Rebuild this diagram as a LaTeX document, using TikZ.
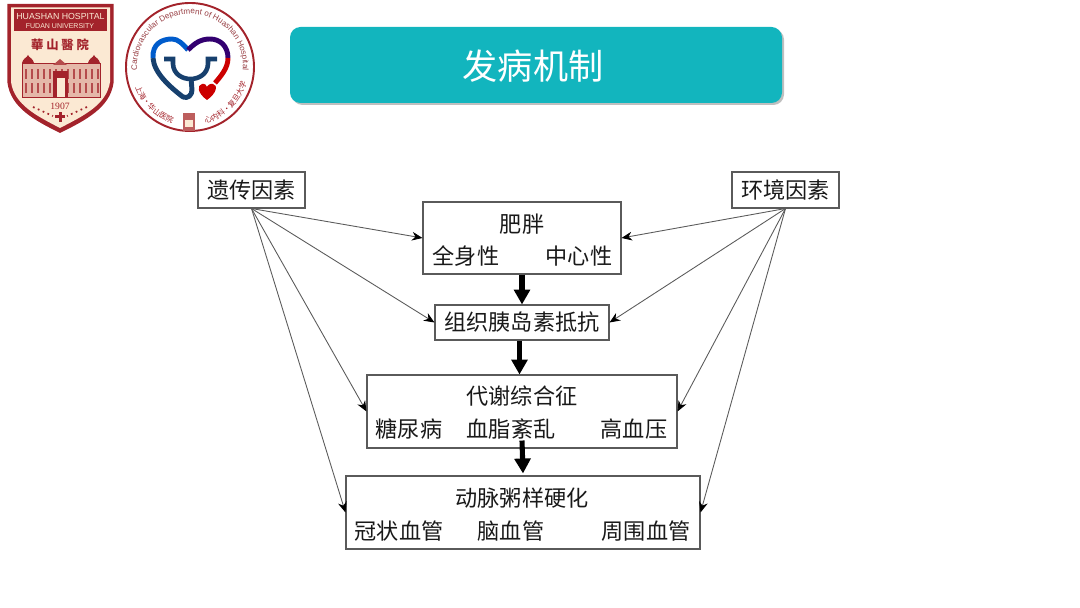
\documentclass[tikz,border=0pt]{standalone}
\usepackage{fontspec}
\setmainfont{Noto Sans CJK SC}
\newfontfamily\tcfont{Noto Sans CJK TC}
\newfontfamily\latinfont{Liberation Sans}
\newfontfamily\yearfont{Liberation Serif}
\usetikzlibrary{arrows.meta,decorations.text,shadows}
\definecolor{banner}{HTML}{12B5BE}
\definecolor{crest}{HTML}{A3232B}
\definecolor{cream}{HTML}{FBE9D3}
\definecolor{navy}{HTML}{17406E}
\definecolor{edge}{HTML}{5A5A5A}
\tikzset{
  boxnode/.style={draw=edge,line width=0.6pt,inner sep=0pt},
  labeltext/.style={font=\fontsize{12.6}{15}\selectfont,text=black!90},
  thinarrow/.style={draw=edge,line width=0.5pt,-{Stealth[length=6pt,width=5pt,black]}},
  fatarrow/.style={draw=black,line width=2.9pt,-{Stealth[length=8.5pt,width=9pt,inset=0pt]}},
  ringtext/.style={decorate,decoration={text along path,text align=center,text={|\latinfont\fontsize{4.6}{5}\selectfont\color{crest!70!gray}|#1}}},
  sealtext/.style={decorate,decoration={text along path,text align=center,text={|\fontsize{4.3}{5}\selectfont\color{crest}|#1}}},
}
\begin{document}
\begin{tikzpicture}
  \useasboundingbox (0,0) rectangle (21.6,12.16);

  % Hospital crest
  \fill[crest] (0.15,12.08) -- (2.27,12.08) -- (2.27,10.5) .. controls (2.2,10) and (1.7,9.75) .. (1.2,9.5) .. controls (0.7,9.75) and (0.22,10) .. (0.15,10.5) -- cycle;
  \fill[cream] (0.22,12.01) -- (2.2,12.01) -- (2.2,10.52) .. controls (2.13,10.06) and (1.66,9.84) .. (1.2,9.6) .. controls (0.74,9.84) and (0.29,10.06) .. (0.22,10.52) -- cycle;
  \fill[crest] (0.28,11.97) rectangle (2.14,11.54);
  \node[font=\latinfont\fontsize{5}{5}\selectfont,text=cream] (crestname) at (1.21,11.84) {HUASHAN HOSPITAL};
  \node[font=\latinfont\fontsize{4}{4}\selectfont,text=cream] (crestuni) at (1.2,11.64) {FUDAN UNIVERSITY};
  \node[font=\tcfont\bfseries\fontsize{7}{7}\selectfont,text=crest] (crestcn) at (1.2,11.27) {華 山 醫 院};
  % building
  \fill[crest!25!cream] (0.44,10.22) rectangle (2,10.9);
  \draw[crest,line width=0.4pt] (0.44,10.22) rectangle (2,10.9);
  \fill[crest] (0.44,10.9) .. controls (0.46,11) and (0.54,11) .. (0.56,11.06) .. controls (0.58,11) and (0.66,11) .. (0.68,10.9) -- cycle;
  \fill[crest] (1.76,10.9) .. controls (1.78,11) and (1.86,11) .. (1.88,11.06) .. controls (1.9,11) and (1.98,11) .. (2,10.9) -- cycle;
  \fill[crest!80!cream] (1.06,10.86) -- (1.2,10.98) -- (1.34,10.86) -- cycle;
  \foreach \wx in {0.52,0.64,...,1.96} {
    \draw[crest!80!cream,line width=0.7pt] (\wx,10.58) -- (\wx,10.78);
    \draw[crest!80!cream,line width=0.7pt] (\wx,10.3) -- (\wx,10.5);
  }
  \fill[crest] (1.06,10.22) rectangle (1.36,10.74);
  \fill[cream] (1.13,10.22) rectangle (1.29,10.6);
  \node[font=\yearfont\fontsize{5.5}{6}\selectfont,text=crest] (crestyear) at (1.2,10.04) {1907};
  \draw[crest,line width=1pt,dotted] (0.66,10.02) -- (1.06,9.84);
  \draw[crest,line width=1pt,dotted] (1.74,10.02) -- (1.34,9.84);
  \fill[crest] (1.17,9.72) rectangle (1.23,9.92);
  \fill[crest] (1.1,9.79) rectangle (1.3,9.85);

  % Department seal
  \draw[crest,line width=1.1pt] (3.8,10.82) circle (1.28);
  \path[ringtext={Cardiovascular Department of Huashan Hospital}] (3.8,10.82) ++(192:1.06) arc (192:-12:1.06);
  \path[sealtext={上海·华山医院}] (3.8,10.82) ++(197:1.17) arc (197:256:1.17);
  \path[sealtext={心内科·复旦大学}] (3.8,10.82) ++(285:1.17) arc (285:345:1.17);
  \fill[crest!70!cream] (3.66,9.54) rectangle (3.9,9.9);
  \fill[cream] (3.7,9.62) rectangle (3.86,9.76);
  % heart
  \draw[navy,line width=2.8pt,line join=round] (3.06,11) .. controls (3.08,10.7) and (3.4,10.42) .. (3.66,10.22) .. controls (3.76,10.18) and (3.84,10.26) .. (3.84,10.36) -- (3.82,10.6);
  \draw[blue!55!cyan!80!black,line width=2.8pt] (3.06,11) .. controls (3.04,11.28) and (3.24,11.38) .. (3.44,11.38) .. controls (3.56,11.38) and (3.66,11.28) .. (3.76,11.16);
  \draw[blue!55!black!80!red,line width=2.8pt] (3.76,11.16) .. controls (3.88,11.28) and (4,11.38) .. (4.2,11.38) .. controls (4.4,11.38) and (4.56,11.24) .. (4.56,11);
  \draw[red!80!black,line width=2.8pt] (4.56,11) .. controls (4.56,10.8) and (4.42,10.64) .. (4.3,10.5);
  % stethoscope
  \draw[navy,line width=2.6pt] (3.28,10.98) -- (3.46,10.98) -- (3.46,10.88) .. controls (3.48,10.48) and (4.14,10.48) .. (4.16,10.88) -- (4.16,10.98) -- (4.34,10.98);
  \fill[red!80!black] (4.14,10.16) .. controls (3.94,10.3) and (3.94,10.46) .. (4.04,10.48) .. controls (4.1,10.5) and (4.14,10.44) .. (4.14,10.42) .. controls (4.14,10.44) and (4.2,10.5) .. (4.26,10.48) .. controls (4.36,10.46) and (4.34,10.3) .. (4.14,10.16) -- cycle;

  % Title
  \node[fill=banner,rounded corners=6pt,minimum width=9.84cm,minimum height=1.52cm,inner sep=0pt,drop shadow={shadow xshift=0.04cm,shadow yshift=-0.04cm,opacity=0.5}] (title) at (10.72,10.86) {};
  \node[font=\fontsize{20}{24}\selectfont,text=white] (titletext) at (10.66,10.84) {发病机制};

  % Causes
  \node[boxnode,labeltext,minimum width=2.14cm,minimum height=0.72cm] (genes) at (5.03,8.36) {遗传因素};
  \node[boxnode,labeltext,minimum width=2.14cm,minimum height=0.72cm] (environ) at (15.71,8.36) {环境因素};

  % Obesity
  \node[boxnode,minimum width=3.96cm,minimum height=1.44cm] (obesity) at (10.44,7.40) {};
  \node[labeltext] (obesityhead) at (10.44,7.68) {肥胖};
  \node[labeltext] (obesityall) at (9.32,7.04) {全身性};
  \node[labeltext] (obesitycore) at (11.58,7.04) {中心性};

  % Insulin resistance
  \node[boxnode,labeltext,minimum width=3.48cm,minimum height=0.70cm] (insulin) at (10.44,5.71) {组织胰岛素抵抗};

  % Metabolic syndrome
  \node[boxnode,minimum width=6.2cm,minimum height=1.46cm] (metabolic) at (10.44,3.93) {};
  \node[labeltext] (metabolichead) at (10.44,4.24) {代谢综合征};
  \node[labeltext] (diabetes) at (8.18,3.58) {糖尿病};
  \node[labeltext] (lipids) at (10.22,3.58) {血脂紊乱};
  \node[labeltext] (pressure) at (12.68,3.58) {高血压};

  % Atherosclerosis
  \node[boxnode,minimum width=7.08cm,minimum height=1.46cm] (athero) at (10.46,1.91) {};
  \node[labeltext] (atherohead) at (10.44,2.20) {动脉粥样硬化};
  \node[labeltext] (coronary) at (7.98,1.54) {冠状血管};
  \node[labeltext] (cerebral) at (10.22,1.54) {脑血管};
  \node[labeltext] (peripheral) at (12.92,1.54) {周围血管};

  % Thin arrows
  \foreach \target in {obesity,insulin,metabolic,athero} {
    \draw[thinarrow] (genes.south) -- (\target.west);
    \draw[thinarrow] (environ.south) -- (\target.east);
  }

  % Thick arrows
  \draw[fatarrow] (obesity.south) -- (insulin.north);
  \draw[fatarrow] ([xshift=-0.05cm]insulin.south) -- ([xshift=-0.05cm]metabolic.north);
  \draw[fatarrow] ([yshift=0.16cm]metabolic.south) -- ([yshift=0.04cm]athero.north);
\end{tikzpicture}
\end{document}
